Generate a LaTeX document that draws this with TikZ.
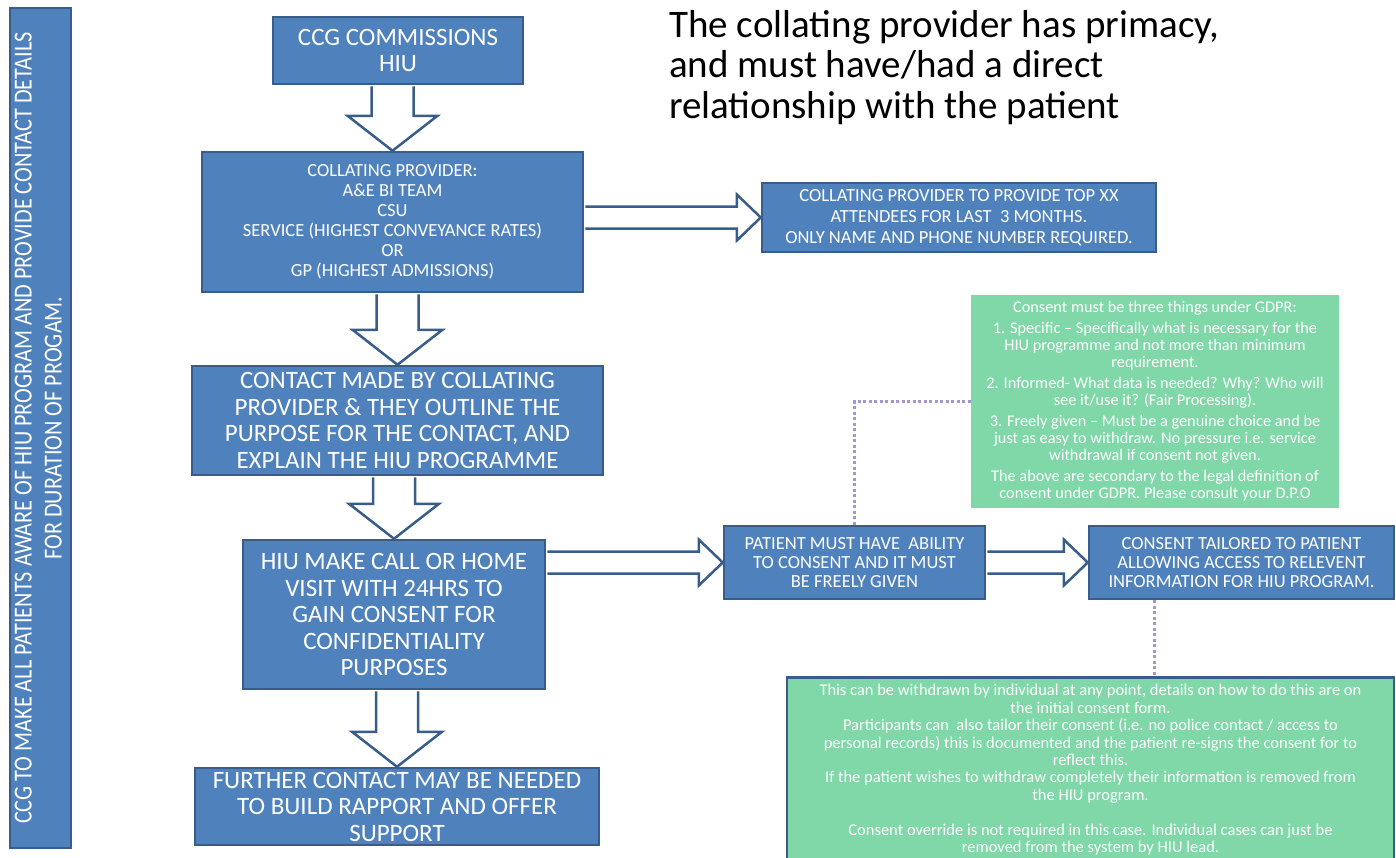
\documentclass[tikz,border=0pt]{standalone}
\usepackage{fontspec}
\setmainfont{Carlito}
\usepackage{graphicx}
\usetikzlibrary{calc}

\definecolor{boxblue}{HTML}{4F81BD}
\definecolor{edgeblue}{HTML}{385D8A}
\definecolor{notegreen}{HTML}{80D7A8}
\definecolor{dotlilac}{HTML}{A795CF}

\tikzset{
	stagebox/.style={draw=edgeblue, line width=2.5pt, fill=boxblue, text=white,
		align=center, inner xsep=2pt, inner ysep=0pt},
	bigtext/.style={font=\fontsize{25}{26.5}\selectfont},
	smalltext/.style={font=\fontsize{18.5}{20}\selectfont},
	notebox/.style={fill=notegreen, text=white, align=center, inner sep=0pt,
		font=\fontsize{16.3}{17}\selectfont},
	blockarrow/.style={draw=edgeblue, line width=2.5pt, fill=white, line join=miter},
	notelink/.style={draw=dotlilac, line width=3pt, dash pattern=on 3pt off 2.5pt}
}

\newcommand{\blockdown}[2]{%
	\draw[blockarrow] ($(#1.south -| #2.north)+(-21,1.2)$)
	-- ($(#2.north)+(-21,-35)$) -- ($(#2.north)+(-45,-35)$)
	-- (#2.north)
	-- ($(#2.north)+(45,-35)$) -- ($(#2.north)+(21,-35)$)
	-- ($(#1.south -| #2.north)+(21,1.2)$);}

\newcommand{\blockright}[2]{%
	\draw[blockarrow] ($(#1.east |- #2.west)+(1.2,-11)$)
	-- ($(#2.west)+(-24,-11)$) -- ($(#2.west)+(-24,-23)$)
	-- (#2.west)
	-- ($(#2.west)+(-24,23)$) -- ($(#2.west)+(-24,11)$)
	-- ($(#1.east |- #2.west)+(1.2,11)$);}

\begin{document}
\begin{tikzpicture}[x=1pt, y=-1pt]
	\useasboundingbox (0,0) rectangle (1396,857);
	
	% side bar
	\node[stagebox, rotate=90, minimum width=840, minimum height=61, inner xsep=0pt] (sidebar) at (40.5,428)
	{\fontsize{26}{30}\selectfont\scalebox{0.855}[1]{\begin{tabular}{@{}c@{}}CCG TO MAKE ALL PATIENTS AWARE OF HIU PROGRAM AND PROVIDE CONTACT DETAILS\\ FOR DURATION OF PROGAM.\end{tabular}}};
	
	% main column
	\node[stagebox, bigtext, minimum width=250, minimum height=67] (ccg) at (398,50.5)
	{CCG COMMISSIONS\\ HIU};
	\node[stagebox, smalltext, minimum width=381, minimum height=140] (collating) at (392.5,222)
	{COLLATING PROVIDER:\\ A\&E BI TEAM\\ CSU\\ SERVICE (HIGHEST CONVEYANCE RATES)\\ OR\\ GP (HIGHEST ADMISSIONS)};
	\node[stagebox, bigtext, minimum width=411, minimum height=109] (contact) at (397.5,420.5)
	{CONTACT MADE BY COLLATING\\ PROVIDER \& THEY OUTLINE THE\\ PURPOSE FOR THE CONTACT, AND\\ EXPLAIN THE HIU PROGRAMME};
	\node[stagebox, bigtext, minimum width=302, minimum height=149] (hiu) at (394,614.5)
	{HIU MAKE CALL OR HOME\\ VISIT WITH 24HRS TO\\ GAIN CONSENT FOR\\ CONFIDENTIALITY\\ PURPOSES};
	\node[stagebox, bigtext, minimum width=404, minimum height=77] (further) at (397,806.5)
	{FURTHER CONTACT MAY BE NEEDED\\ TO BUILD RAPPORT AND OFFER\\ SUPPORT};
	
	% right hand side
	\node[stagebox, font=\fontsize{18.5}{21}\selectfont, minimum width=394, minimum height=69] (topxx) at (959,217.5)
	{COLLATING PROVIDER TO PROVIDE TOP XX\\ ATTENDEES FOR LAST ~3 MONTHS.\\ ONLY NAME AND PHONE NUMBER REQUIRED.};
	\node[stagebox, font=\fontsize{18.5}{19}\selectfont, minimum width=261, minimum height=73] (patient) at (854.5,562.5)
	{PATIENT MUST HAVE ~ABILITY\\ TO CONSENT AND IT MUST\\ BE FREELY GIVEN};
	\node[stagebox, font=\fontsize{18.5}{19}\selectfont, minimum width=305, minimum height=73] (tailored) at (1241.5,562.5)
	{CONSENT TAILORED TO PATIENT\\ ALLOWING ACCESS TO RELEVENT\\ INFORMATION FOR HIU PROGRAM.};
	
	\node[notebox, minimum width=368, minimum height=213] (gdpr) at (1155,401.5)
	{Consent must be three things under GDPR:\\[4pt]
		1. Specific -- Specifically what is necessary for the\\ HIU programme and not more than minimum\\ requirement.\\[4pt]
		2. Informed- What data is needed? Why? Who will\\ see it/use it? (Fair Processing).\\[4pt]
		3. Freely given -- Must be a genuine choice and be\\ just as easy to withdraw. No pressure i.e. service\\ withdrawal if consent not given.\\[4pt]
		The above are secondary to the legal definition of\\ consent under GDPR. Please consult your D.P.O};
	
	\node[notebox, draw=edgeblue, line width=2.5pt, font=\fontsize{16.5}{17.4}\selectfont,
	minimum width=607, minimum height=185, anchor=north] (withdraw) at (1090.5,676)
	{This can be withdrawn by individual at any point, details on how to do this are on\\ the initial consent form.\\
		Participants can ~also tailor their consent (i.e. no police contact / access to\\ personal records) this is documented and the patient re-signs the consent for to\\ reflect this.\\
		If the patient wishes to withdraw completely their information is removed from\\ the HIU program.\\[17.4pt]
		Consent override is not required in this case. Individual cases can just be\\ removed from the system by HIU lead.};
	
	\node[anchor=north west, align=left, inner sep=0pt, font=\fontsize{39}{40.5}\selectfont] (primacy) at (669,10)
	{The collating provider has primacy,\\ and must have/had a direct\\ relationship with the patient};
	
	% arrows
	\blockdown{ccg}{collating}
	\blockdown{collating}{contact}
	\blockdown{contact}{hiu}
	\blockdown{hiu}{further}
	\blockright{collating}{topxx}
	\blockright{hiu}{patient}
	\blockright{patient}{tailored}
	
	\draw[notelink] (patient.north) |- (gdpr.west);
	\draw[notelink] ([xshift=67pt]tailored.south west) -- ([xshift=67pt]tailored.south west |- withdraw.north);
\end{tikzpicture}
\end{document}
